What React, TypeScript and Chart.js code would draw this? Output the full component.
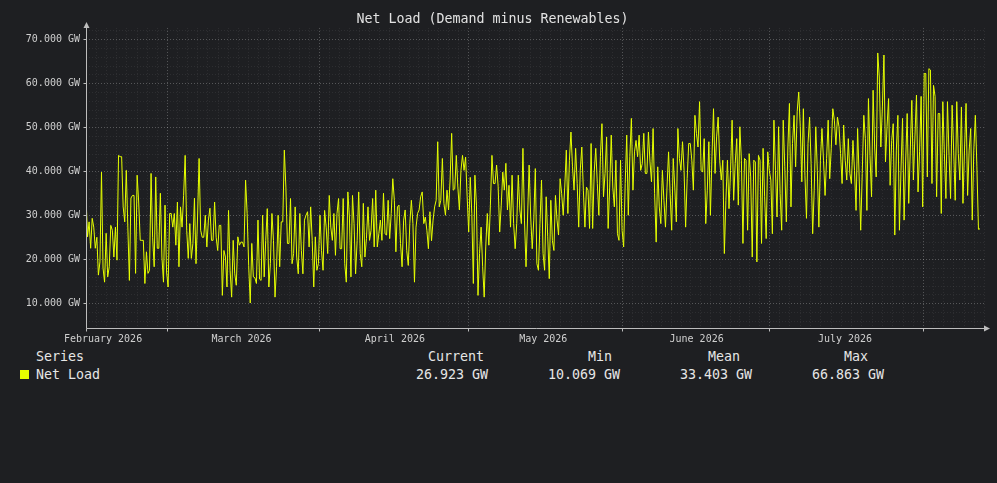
import React, { useEffect, useRef } from "react";
import { Chart, registerables } from "chart.js";

Chart.register(...registerables);

// time is in days, day 0 = 1 February 2026; readings are evenly spaced
const firstReading = -3.44;
const lastReading = 177.29;

// net load in GW, one array per ~month window
const loadLateJanFeb = [
  34.2, 25.1, 28.5, 22.5, 29.3, 27.3, 22.5, 25.0, 16.4, 19.4, 39.8, 18.0, 14.8, 25.9, 16.0, 18.3,
  27.7, 26.6, 20.5, 27.3, 19.8, 43.6, 43.3, 43.3, 31.9, 28.5, 40.2, 27.3, 15.2, 33.9, 34.5, 34.5,
  16.8, 39.1, 33.0, 24.3, 24.3, 24.3, 14.5, 21.7, 16.8, 17.5, 39.5, 25.0, 18.3, 38.7, 22.5, 22.5,
  35.0, 20.5, 14.8, 32.3, 17.1, 13.7, 30.4, 30.4, 27.3, 30.4, 23.2, 33.0, 18.3, 31.9, 27.3, 34.5,
  43.6, 26.6, 20.2, 28.1, 20.2, 23.6, 33.9, 19.0, 29.6, 42.9, 26.6, 25.0, 25.0, 30.0, 22.8, 28.9,
  31.6, 24.3, 24.3, 33.0, 25.0, 22.0, 27.7, 27.7, 11.8, 22.0, 20.5, 13.7, 31.1, 17.5, 11.4, 24.3,
];
const loadMarch = [
  16.7, 14.1, 25.1, 23.2, 23.9, 23.9, 22.8, 38.0, 30.4, 18.6, 10.069, 23.6, 16.0, 15.8, 14.5, 28.9,
  15.5, 15.2, 30.0, 16.0, 24.3, 31.5, 13.7, 19.0, 30.4, 24.3, 11.4, 18.3, 30.0, 18.3, 28.5, 28.5,
  44.8, 36.4, 23.6, 23.6, 33.8, 19.0, 21.3, 31.9, 20.5, 16.7, 30.4, 22.0, 16.7, 28.9, 30.0, 30.8,
  22.8, 31.9, 24.3, 13.7, 25.1, 17.5, 19.0, 30.0, 22.0, 17.5, 31.1, 27.3, 21.3, 34.5, 27.3, 24.3,
  30.4, 20.9, 30.4, 33.8, 22.4, 22.4, 33.8, 19.0, 14.8, 35.3, 29.6, 16.0, 34.5, 28.1, 16.7, 24.3,
  35.3, 21.3, 18.3, 32.7, 20.5, 24.7, 31.9, 24.3, 26.6, 33.8, 22.8, 35.7, 22.8, 25.8, 28.9, 24.3,
  35.0, 25.8,
];
const loadApril = [
  25.5, 33.4, 24.7, 30.4, 38.3, 33.4, 21.7, 31.9, 32.3, 23.6, 18.3, 28.9, 31.2, 22.0, 18.6, 28.1,
  33.4, 28.1, 14.8, 27.3, 30.4, 31.2, 34.2, 35.3, 28.1, 29.6, 26.6, 22.4, 30.8, 24.2, 28.9, 31.9,
  33.4, 46.7, 31.9, 33.4, 42.9, 32.7, 30.0, 35.7, 31.2, 38.0, 48.6, 35.7, 36.0, 43.6, 36.4, 31.2,
  40.2, 43.6, 40.2, 43.2, 34.2, 26.2, 38.6, 30.4, 14.5, 39.1, 32.3, 11.8, 21.3, 27.3, 18.3, 11.4,
  22.8, 30.4, 23.2, 32.3, 43.6, 37.2, 37.2, 41.4, 36.6, 26.2, 32.3, 39.8, 35.7, 41.8, 31.2, 36.8,
  27.3, 39.1, 28.1, 22.4, 28.1, 39.1, 31.2, 28.1, 45.2, 28.9, 18.3, 29.6, 41.4, 29.6, 22.4, 28.9,
  40.6, 19.0, 17.5,
];
const loadMay = [
  28.1, 38.0, 21.3, 17.5, 34.2, 25.1, 15.6, 33.4, 24.3, 22.0, 34.5, 28.9, 25.5, 38.3, 34.9, 30.0,
  36.4, 44.8, 30.4, 42.5, 48.9, 41.0, 35.7, 45.2, 37.2, 27.3, 40.2, 45.5, 35.7, 27.3, 36.4, 35.7,
  27.0, 46.3, 27.0, 39.8, 45.2, 37.2, 30.0, 43.3, 50.8, 34.2, 39.5, 47.8, 27.0, 36.4, 48.2, 36.4,
  31.9, 42.5, 25.8, 24.3, 42.5, 26.6, 22.8, 37.2, 48.2, 30.0, 43.3, 52.0, 35.7, 44.4, 47.0, 43.3,
  48.2, 40.2, 41.7, 48.6, 39.5, 39.5, 48.9, 42.1, 37.6, 49.7, 34.9, 23.9, 41.0, 31.9, 28.1, 40.2,
  33.4, 27.3, 36.4, 44.4, 34.9, 26.6, 42.9, 36.4, 28.5, 49.7, 42.9, 40.2, 46.7, 40.2, 27.3, 38.3,
  46.3,
];
const loadJune = [
  46.3, 42.5, 35.7, 52.7, 48.6, 45.5, 55.8, 40.2, 39.8, 47.4, 28.1, 35.7, 46.7, 30.0, 43.3, 54.2,
  39.5, 47.8, 52.3, 42.5, 38.0, 42.5, 21.3, 33.4, 42.5, 31.5, 40.2, 51.6, 33.4, 41.7, 47.4, 32.3,
  50.1, 42.5, 23.6, 42.9, 42.5, 26.6, 44.0, 38.7, 20.5, 42.5, 42.1, 19.4, 43.6, 42.5, 23.6, 45.2,
  34.2, 24.7, 44.4, 40.2, 38.0, 25.8, 51.6, 40.2, 29.6, 50.1, 34.9, 26.6, 51.6, 41.0, 28.5, 45.5,
  55.4, 31.9, 46.3, 52.7, 41.0, 53.5, 58.0, 50.1, 37.6, 54.2, 39.1, 29.3, 46.3, 52.3, 41.7, 25.8,
  35.7, 50.1, 40.2, 27.3, 42.5, 49.7, 42.5, 34.5, 42.9, 51.6, 38.3, 45.2, 54.2, 51.6, 46.0, 52.3,
  50.1,
];
const loadJuly = [
  44.0, 37.2, 50.5, 42.5, 38.0, 47.4, 39.5, 37.2, 47.0, 40.2, 31.1, 49.7, 38.7, 26.6, 39.5, 52.7,
  47.4, 31.1, 56.5, 43.6, 34.2, 58.4, 45.5, 38.7, 66.863, 61.4, 45.5, 54.6, 66.4, 42.1, 50.1, 56.5,
  36.8, 47.0, 50.8, 25.5, 44.8, 52.7, 26.6, 40.2, 52.0, 28.9, 42.1, 53.1, 32.7, 44.8, 56.1, 38.0,
  47.8, 57.3, 35.3, 44.4, 57.0, 31.9, 62.2, 62.2, 38.7, 63.3, 63.0, 37.2, 59.5, 57.0, 34.2, 53.1,
  53.1, 30.4, 55.8, 44.0, 33.8, 55.8, 43.6, 33.8, 55.0, 44.8, 33.4, 55.8, 44.0, 38.0, 54.6, 32.7,
  44.8, 55.4, 34.5, 44.8, 49.7, 28.9, 44.8, 52.7, 41.0, 26.8, 26.923,
];

const netLoad = [...loadLateJanFeb, ...loadMarch, ...loadApril, ...loadMay, ...loadJune, ...loadJuly];

const monthStarts = [0, 28, 59, 89, 120, 150];
const monthLabels = ["February 2026", "March 2026", "April 2026", "May 2026", "June 2026", "July 2026"];
const gridDays = [12.9, 43.7, 73.8, 104.9, 134.6, 165.8];
const yTicks = [10, 20, 30, 40, 50, 60, 70];

const legendHeaders = ["Current", "Min", "Mean", "Max"];
const legendValues = ["26.923 GW", "10.069 GW", "33.403 GW", "66.863 GW"];

const MONO = "'DejaVu Sans Mono', monospace";
const BG = "#1e1f22";
const LINE = "#e6ff00";
const AXIS = "#bdbdbd";

const seriesMin = Math.min(...netLoad);
const seriesMax = Math.max(...netLoad);
const pad = (seriesMax - seriesMin) * 0.1;

const meshPlugin = {
  id: "mesh",
  beforeDatasetsDraw(chart: any) {
    const { ctx, chartArea: a, scales } = chart;
    const x = scales.x;
    const y = scales.y;
    const px = (v: number) => Math.round(x.getPixelForValue(v)) + 0.5;
    const py = (v: number) => Math.round(y.getPixelForValue(v)) + 0.5;
    const vline = (p: number) => {
      if (p <= a.left + 1 || p > a.right) return;
      ctx.beginPath();
      ctx.moveTo(p, a.top);
      ctx.lineTo(p, a.bottom);
      ctx.stroke();
    };
    const hline = (p: number) => {
      if (p < a.top || p >= a.bottom - 1) return;
      ctx.beginPath();
      ctx.moveTo(a.left, p);
      ctx.lineTo(a.right, p);
      ctx.stroke();
    };
    ctx.save();
    ctx.lineWidth = 1;
    ctx.setLineDash([1, 2]);

    // minor mesh
    ctx.strokeStyle = "rgba(255,255,255,0.07)";
    for (let i = 2; i <= 36; i++) {
      if (i % 5 !== 0) hline(py(i * 2));
    }
    const span = (gridDays[gridDays.length - 1] - gridDays[0]) / (gridDays.length - 1);
    const majors = [gridDays[0] - span, ...gridDays, gridDays[gridDays.length - 1] + span];
    for (let g = 0; g < majors.length - 1; g++) {
      const d = (majors[g + 1] - majors[g]) / 15;
      for (let k = 1; k < 15; k++) vline(px(majors[g] + k * d));
    }

    // major mesh
    ctx.strokeStyle = "rgba(255,255,255,0.25)";
    yTicks.forEach((v) => hline(py(v)));
    gridDays.forEach((d) => vline(px(d)));
    ctx.restore();
  },
  afterDatasetsDraw(chart: any) {
    const { ctx, chartArea: a, scales } = chart;
    const left = Math.round(a.left) + 0.5;
    const bottom = Math.round(a.bottom) + 0.5;
    ctx.save();
    ctx.strokeStyle = AXIS;
    ctx.fillStyle = AXIS;
    ctx.lineWidth = 1;
    ctx.beginPath();
    ctx.moveTo(left, a.top - 2);
    ctx.lineTo(left, bottom);
    ctx.lineTo(a.right + 1, bottom);
    ctx.stroke();
    // tick marks
    ctx.beginPath();
    yTicks.forEach((v) => {
      const p = Math.round(scales.y.getPixelForValue(v)) + 0.5;
      ctx.moveTo(left - 3, p);
      ctx.lineTo(left, p);
    });
    [scales.x.min, ...gridDays].forEach((d: number) => {
      const p = Math.round(scales.x.getPixelForValue(d)) + 0.5;
      ctx.moveTo(p, bottom);
      ctx.lineTo(p, bottom + 3);
    });
    ctx.stroke();
    // arrow heads
    ctx.beginPath();
    ctx.moveTo(left, a.top - 6);
    ctx.lineTo(left - 3, a.top);
    ctx.lineTo(left + 3, a.top);
    ctx.closePath();
    ctx.fill();
    ctx.beginPath();
    ctx.moveTo(a.right + 5, bottom);
    ctx.lineTo(a.right - 1, bottom - 3);
    ctx.lineTo(a.right - 1, bottom + 3);
    ctx.closePath();
    ctx.fill();
    ctx.restore();
  },
};

export default function App() {
  const canvasEl = useRef<HTMLCanvasElement>(null);

  useEffect(() => {
    if (!canvasEl.current) return;
    const ctx = canvasEl.current.getContext("2d");
    if (!ctx) return;

    const step = (lastReading - firstReading) / (netLoad.length - 1);
    const points = netLoad.map((v, i) => ({ x: firstReading + i * step, y: v }));

    const chart = new Chart(ctx, {
      type: "line",
      data: {
        datasets: [
          {
            label: "Net Load",
            data: points,
            borderColor: LINE,
            borderWidth: 1,
            pointRadius: 0,
            tension: 0,
          },
        ],
      },
      options: {
        animation: false,
        responsive: false,
        parsing: false,
        layout: { padding: { left: 0, right: 12, top: 0, bottom: 0 } },
        plugins: {
          legend: { display: false },
          tooltip: { enabled: false },
          title: {
            display: true,
            text: "Net Load (Demand minus Renewables)",
            color: "#e2e2e2",
            font: { family: MONO, size: 13.3, weight: "normal" },
            padding: { top: 12, bottom: 0 },
          },
        },
        scales: {
          x: {
            type: "linear",
            min: -3.44,
            max: 178.3,
            grid: { display: false, drawTicks: false },
            border: { display: false },
            afterBuildTicks: (s: any) => {
              s.ticks = monthStarts.map((v) => ({ value: v }));
            },
            afterFit: (s: any) => {
              s.height = 17;
            },
            ticks: {
              autoSkip: false,
              maxRotation: 0,
              padding: 5,
              color: "#cfcfcf",
              font: { family: MONO, size: 10 },
              callback: (_v: any, i: number) => monthLabels[i],
            },
          },
          y: {
            min: seriesMin - pad,
            max: seriesMax + pad,
            grid: { display: false, drawTicks: false },
            border: { display: false },
            afterBuildTicks: (s: any) => {
              s.ticks = yTicks.map((v) => ({ value: v }));
            },
            afterFit: (s: any) => {
              s.width = 86;
            },
            ticks: {
              padding: 6,
              color: "#cfcfcf",
              font: { family: MONO, size: 10 },
              callback: (v: any) => `${Number(v).toFixed(3)} GW`,
            },
          },
        },
      },
      plugins: [meshPlugin],
    });

    return () => {
      chart.destroy();
    };
  }, []);

  const text: React.CSSProperties = {
    position: "absolute",
    fontFamily: MONO,
    fontSize: "13.3px",
    lineHeight: "16px",
    color: "#e6e6e6",
    whiteSpace: "pre",
  };
  const headerLeft = [428, 588, 708, 844];
  const valueLeft = [416, 548, 680, 812];

  return (
    <div style={{ position: "absolute", left: 0, top: 0, width: 997, height: 483, background: BG }}>
      <canvas ref={canvasEl} width={997} height={345} style={{ display: "block" }} />
      <div style={{ ...text, left: 36, top: 349 }}>Series</div>
      {legendHeaders.map((h, i) => (
        <div key={h} style={{ ...text, left: headerLeft[i], top: 349 }}>
          {h}
        </div>
      ))}
      <div style={{ position: "absolute", left: 20, top: 370, width: 9, height: 9, background: LINE }} />
      <div style={{ ...text, left: 36, top: 367 }}>Net Load</div>
      {legendValues.map((v, i) => (
        <div key={v} style={{ ...text, left: valueLeft[i], top: 367 }}>
          {v}
        </div>
      ))}
    </div>
  );
}
